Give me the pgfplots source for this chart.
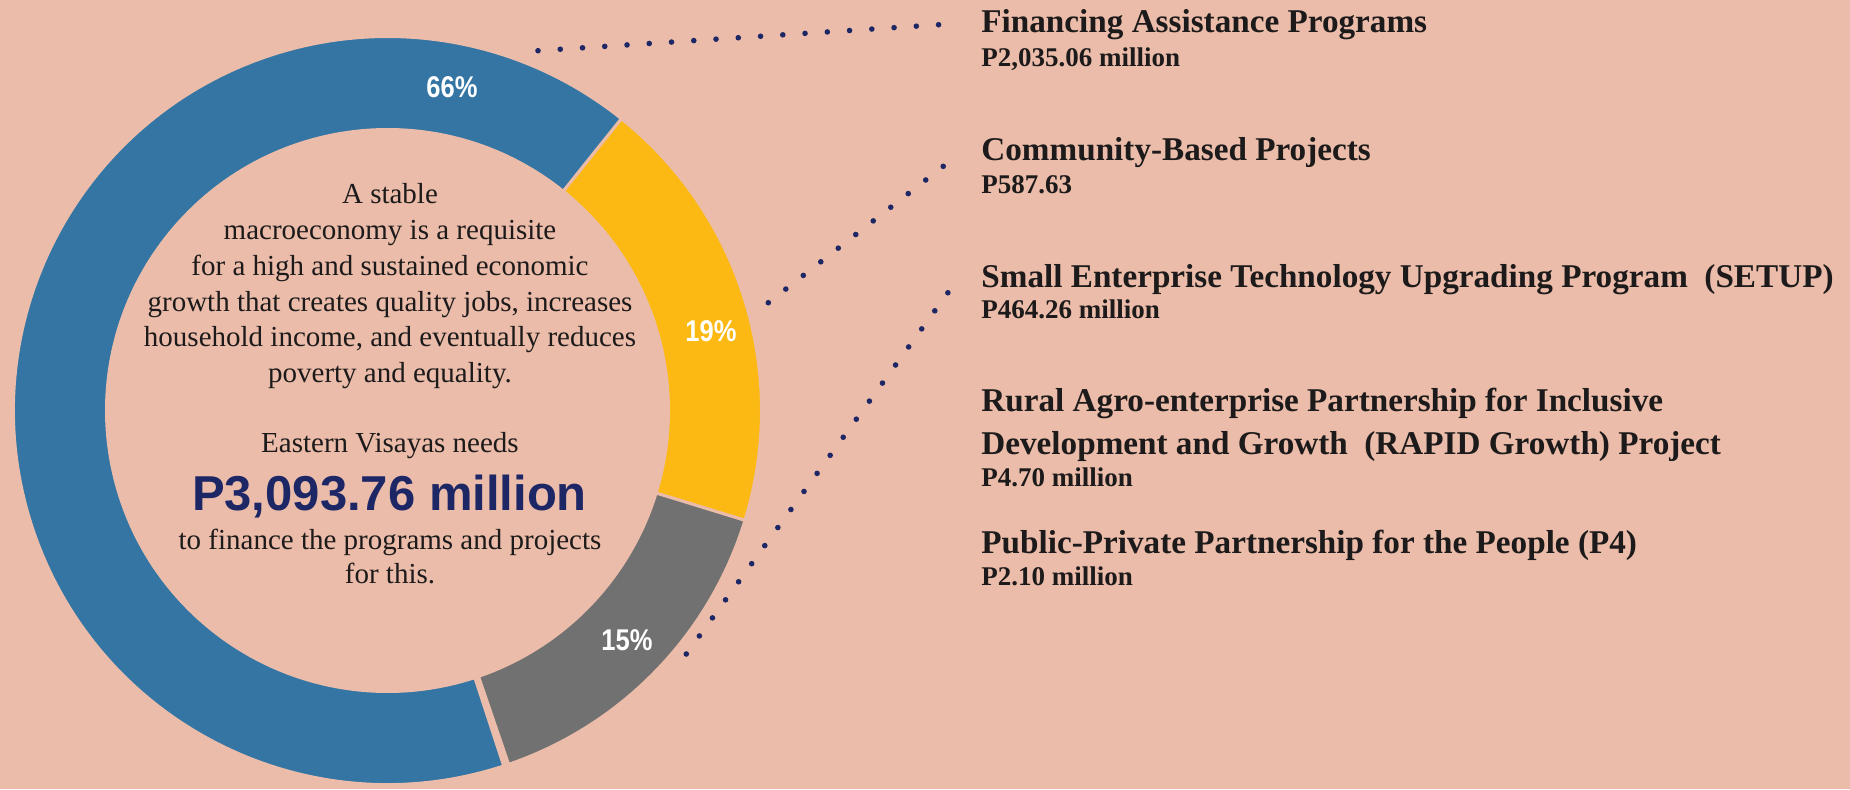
\documentclass[border=0pt]{standalone}
\usepackage{pgfplots}
\pgfplotsset{compat=1.18}
\usepackage{pgfplotstable}
\usepackage{fontspec}
\setmainfont{Liberation Serif}
\newfontfamily\sansf{Liberation Sans}
\newfontfamily\pctf[FakeStretch=0.85]{Liberation Sans}
\definecolor{bgc}{HTML}{EBBCA9}
\definecolor{cblue}{HTML}{3475A3}
\definecolor{cyellow}{HTML}{FCB913}
\definecolor{cgray}{HTML}{717171}
\definecolor{navy}{HTML}{1E2766}
\definecolor{ink}{HTML}{1C1A1A}

\pgfplotstableread{
name value
Yellow 587.63
Gray 464.26
RAPID 4.70
P4 2.10
Blue 2035.06
}\slices

% one slice of the ring: start angle, end angle (clockwise), colour
\newcommand\slice[3]{%
  \filldraw[fill=#3, draw=bgc, line width=1.5pt]
    (axis cs:387.5,378.5) ++(#1:187pt)
    arc[start angle=#1, end angle=#2, radius=187pt]
    -- ++(#2+180:46.5pt)
    arc[start angle=#2, end angle=#1, radius=140.5pt] -- cycle;}
\newcommand\hd[3]{\node[anchor=base west, inner sep=0pt, text=ink,
  font=\fontsize{16.6pt}{20pt}\selectfont\bfseries] at (axis cs:#1,#2) {#3};}
\newcommand\sub[3]{\node[anchor=base west, inner sep=0pt, text=ink,
  font=\fontsize{13.5pt}{16pt}\selectfont\bfseries] at (axis cs:#1,#2) {#3};}
\newcommand\ct[2]{\node[anchor=base, inner sep=0pt, text=ink,
  font=\fontsize{14.5pt}{17pt}\selectfont] at (axis cs:390,#1) {#2};}
\newcommand\pct[3]{\node[anchor=center, inner sep=0pt, text=white,
  font=\pctf\fontsize{15pt}{18pt}\selectfont\bfseries] at (axis cs:#1,#2) {#3};}

\begin{document}
\begin{tikzpicture}
\pgfplotstablegetelem{0}{value}\of\slices \let\vY\pgfplotsretval
\pgfplotstablegetelem{1}{value}\of\slices \let\vG\pgfplotsretval
\pgfplotstablegetelem{2}{value}\of\slices \let\vR\pgfplotsretval
\pgfplotstablegetelem{3}{value}\of\slices \let\vP\pgfplotsretval
\pgfplotstablegetelem{4}{value}\of\slices \let\vB\pgfplotsretval
\pgfmathsetmacro\tot{(\vY+\vG+\vR+\vP+\vB)/100}
\pgfmathsetmacro\fY{\vY/\tot}
\pgfmathsetmacro\fG{\vG/\tot}
\pgfmathsetmacro\fS{(\vR+\vP)/\tot}
\pgfmathsetmacro\fB{\vB/\tot}
\pgfmathsetmacro\aA{51.3}
\pgfmathsetmacro\aB{\aA-3.6*\fY}
\pgfmathsetmacro\aC{\aB-3.6*\fG}
\pgfmathsetmacro\aD{\aC-3.6*\fS}
\pgfmathsetmacro\aE{\aD-3.6*\fB}
\begin{axis}[
  width=925pt, height=394.5pt, scale only axis,
  xmin=0, xmax=1850, ymin=0, ymax=789,
  hide axis, clip=false,
]
\fill[bgc] (rel axis cs:0,0) rectangle (rel axis cs:1,1);
\coordinate (SW) at (rel axis cs:0,0);
\coordinate (NE) at (rel axis cs:1,1);

\slice{\aA}{\aB}{cyellow}
\slice{\aB}{\aC}{cgray}
\slice{\aD}{\aE}{cblue}

\pct{452}{702}{66\%}
\pct{711}{458}{19\%}
\pct{627}{149}{15\%}

% leader dots
\addplot[navy, line width=2.8pt, line cap=round, dash pattern=on 0pt off 11.15pt]
  coordinates {(538,738.3) (960.7,765.7)};
\addplot[navy, line width=2.8pt, line cap=round, dash pattern=on 0pt off 11.09pt]
  coordinates {(768.3,486.3) (960.7,636.3)};
\addplot[navy, line width=2.8pt, line cap=round, dash pattern=on 0pt off 11.15pt]
  coordinates {(686.3,135) (960.7,514)};

% centre text
\ct{586}{A stable}
\ct{550}{macroeconomy is a requisite}
\ct{514}{for a high and sustained economic}
\ct{478}{growth that creates quality jobs, increases}
\ct{443}{household income, and eventually reduces}
\ct{407}{poverty and equality.}
\ct{337}{Eastern Visayas needs}
\node[anchor=base, inner sep=0pt, text=navy,
  font=\sansf\fontsize{24.5pt}{28pt}\selectfont\bfseries] at (axis cs:389.5,278.3) {P3,093.76 million};
\ct{240}{to finance the programs and projects}
\ct{206}{for this.}

% right-hand list
\hd{981}{756}{Financing Assistance Programs}
\sub{981}{723}{P2,035.06 million}
\hd{981}{629}{Community-Based Projects}
\sub{981}{596}{P587.63}
\hd{981}{502}{Small Enterprise Technology Upgrading Program\ \ (SETUP)}
\sub{981}{471}{P464.26 million}
\hd{981}{377.3}{Rural Agro-enterprise Partnership for Inclusive}
\hd{981}{335}{Development and Growth\ \ (RAPID Growth) Project}
\sub{981}{302.3}{P4.70 million}
\hd{981}{236}{Public-Private Partnership for the People (P4)}
\sub{981}{204}{P2.10 million}
\end{axis}
\pgfresetboundingbox
\path[use as bounding box] (SW) rectangle (NE);
\end{tikzpicture}
\end{document}
